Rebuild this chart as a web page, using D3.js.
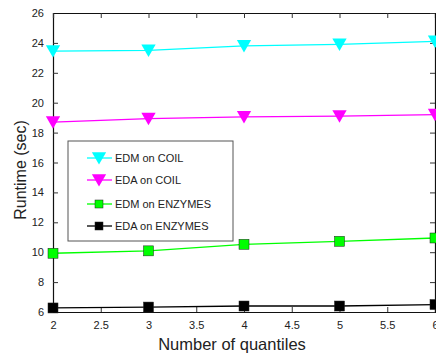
<!DOCTYPE html>
<html>
<head>
<meta charset="utf-8">
<script src="https://cdn.jsdelivr.net/npm/d3@7"></script>
<style>
  body { margin: 0; background: #fff; }
  text { font-family: Arial, "Liberation Sans", sans-serif; fill: #222; }
</style>
</head>
<body>
<div id="chart-area"></div>
<script>
// data
let quantiles = [2, 3, 4, 5, 6];
let edmCoil = [23.45, 23.5, 23.8, 23.9, 24.1];
let edaCoil = [18.7, 18.93, 19.05, 19.1, 19.2];
let edmEnzymes = [9.93, 10.09, 10.53, 10.73, 10.95];
let edaEnzymes = [6.27, 6.33, 6.4, 6.4, 6.5];
let seriesNames = ["EDM on COIL", "EDA on COIL", "EDM on ENZYMES", "EDA on ENZYMES"];
let xTicks = [2, 2.5, 3, 3.5, 4, 4.5, 5, 5.5, 6];
let yTicks = [6, 8, 10, 12, 14, 16, 18, 20, 22, 24, 26];

let series = [
  {name: seriesNames[0], values: edmCoil, color: "#00ffff", shape: "tri"},
  {name: seriesNames[1], values: edaCoil, color: "#ff00ff", shape: "tri"},
  {name: seriesNames[2], values: edmEnzymes, color: "#00ff00", shape: "sq"},
  {name: seriesNames[3], values: edaEnzymes, color: "#000000", shape: "sq"}
];

let margin = {top: 13, right: 1, bottom: 46, left: 53};
let width = 436 - margin.left - margin.right,
    height = 358 - margin.top - margin.bottom;

let svg = d3.select("#chart-area").append("svg")
    .attr("width", 436)
    .attr("height", 358)
  .append("g")
    .attr("transform", "translate(" + margin.left + "," + margin.top + ")");

let x = d3.scaleLinear().domain([2, 6]).range([0, width]);
let y = d3.scaleLinear().domain([6, 26]).range([height, 0]);

// axes (ticks pointing inward, box on all sides)
let xAxis = svg.append("g")
    .attr("transform", "translate(0," + height + ")")
    .call(d3.axisBottom(x).tickValues(xTicks).tickSize(-5).tickPadding(9)
      .tickFormat(d3.format("")));
let yAxis = svg.append("g")
    .call(d3.axisLeft(y).tickValues(yTicks).tickSize(-5).tickPadding(9));
let xTop = svg.append("g")
    .call(d3.axisTop(x).tickValues(xTicks).tickSize(-5).tickFormat(""));
let yRight = svg.append("g")
    .attr("transform", "translate(" + width + ",0)")
    .call(d3.axisRight(y).tickValues(yTicks).tickSize(-5).tickFormat(""));

[xAxis, yAxis, xTop, yRight].forEach(g => {
  g.select(".domain").attr("stroke", "#111").attr("stroke-width", 1.2);
  g.selectAll(".tick line").attr("stroke", "#333");
  g.selectAll(".tick text").style("font-size", "11px").style("font-family", "Arial, 'Liberation Sans', sans-serif").attr("fill", "#222");
});

let line = d3.line()
    .x((d, i) => x(quantiles[i]))
    .y(d => y(d));

function drawMarker(g, shape, color, cx, cy, s) {
  if (shape == "tri") {
    g.append("path")
      .attr("d", "M" + (cx - s * 0.55) + "," + (cy - s * 0.45) + "L" + (cx + s * 0.55) + "," + (cy - s * 0.45) + "L" + cx + "," + (cy + s * 0.5) + "Z")
      .attr("fill", color);
  } else {
    g.append("rect")
      .attr("x", cx - s / 2).attr("y", cy - s / 2)
      .attr("width", s).attr("height", s)
      .attr("fill", color).attr("stroke", "#222").attr("stroke-width", 0.5);
  }
}

series.forEach(s => {
  svg.append("path")
    .datum(s.values)
    .attr("d", line)
    .attr("fill", "none")
    .attr("stroke", s.color)
    .attr("stroke-width", 1.3);
  let mg = svg.append("g");
  s.values.forEach((v, i) => {
    drawMarker(mg, s.shape, s.color, x(quantiles[i]), y(v), s.shape == "tri" ? 13 : 10);
  });
});

// legend
let legend = svg.append("g").attr("transform", "translate(" + (68 - margin.left) + "," + (141 - margin.top) + ")");
legend.append("rect")
  .attr("width", 165).attr("height", 100)
  .attr("fill", "#fff").attr("stroke", "#555").attr("stroke-width", 1);
let legendY = [17, 39, 63, 85];
series.forEach((s, i) => {
  let ly = legendY[i];
  legend.append("line")
    .attr("x1", 19).attr("x2", 44).attr("y1", ly).attr("y2", ly)
    .attr("stroke", s.color).attr("stroke-width", 1.3);
  drawMarker(legend, s.shape, s.color, 31, ly, s.shape == "tri" ? 13 : 8);
  legend.append("text")
    .attr("x", 47).attr("y", ly + 4)
    .style("font-size", "11px")
    .text(s.name);
});

// axis titles
svg.append("text")
  .attr("x", 232 - margin.left).attr("y", 350 - margin.top)
  .attr("text-anchor", "middle")
  .style("font-size", "16.5px")
  .text("Number of quantiles");
svg.append("text")
  .attr("transform", "translate(" + (26 - margin.left) + "," + (170 - margin.top) + ") rotate(-90)")
  .attr("text-anchor", "middle")
  .style("font-size", "16px")
  .text("Runtime (sec)");
</script>
</body>
</html>
